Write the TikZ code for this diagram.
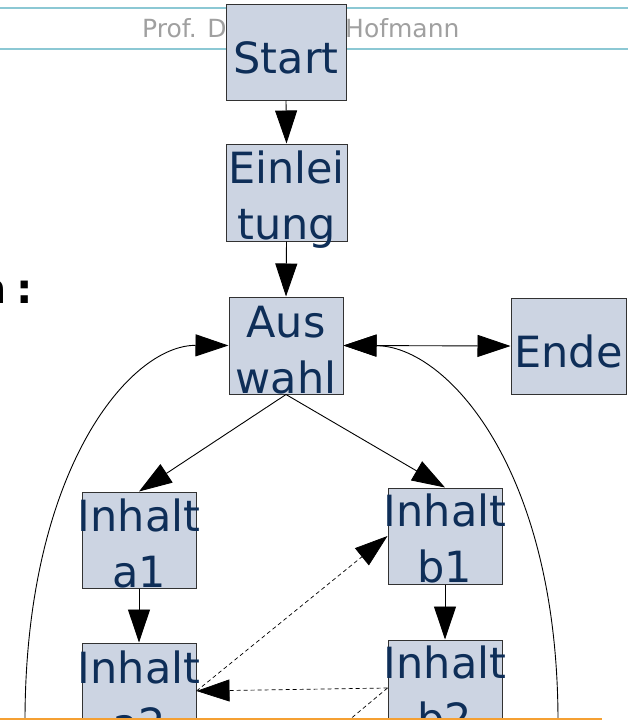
\documentclass[tikz,border=0pt]{standalone}
\usepackage{fontspec}
\setmainfont{DejaVu Sans}
\usetikzlibrary{arrows.meta}
\definecolor{boxfill}{RGB}{204,212,226}
\definecolor{boxdraw}{RGB}{50,50,50}
\definecolor{txtblue}{RGB}{14,46,88}
\definecolor{headline}{RGB}{140,200,212}
\definecolor{headgray}{RGB}{160,160,160}
\definecolor{orangeline}{RGB}{245,160,50}
\begin{document}
\begin{tikzpicture}[x=1pt,y=1pt,
  box/.style={draw=boxdraw, line width=1pt, fill=boxfill, minimum width=114pt, minimum height=96pt, inner sep=0pt},
  lbl/.style={text=txtblue, font=\fontsize{43}{56}\selectfont, align=center, inner sep=0pt},
  head/.style={text=headgray, font=\fontsize{25}{30}\selectfont, anchor=base west, inner sep=0pt},
  arr/.style={-{Triangle[length=33pt,width=22pt]}, line width=0.9pt},
  biarr/.style={{Triangle[length=33pt,width=22pt]}-{Triangle[length=33pt,width=22pt]}, line width=0.9pt},
  dasharr/.style={arr, dash pattern=on 4pt off 3pt, line width=0.7pt},
  dashline/.style={dash pattern=on 4pt off 3pt, line width=0.7pt}]
\useasboundingbox (0,0) rectangle (628,-720);
\clip (0,0) rectangle (628,-720);
% header
\draw[headline, line width=1.2pt] (0,-8) -- (628,-8) (0,-49) -- (628,-49);
\node[head] (prof) at (142,-37) {Prof. D};
\node[head] (hof) at (345,-37) {Hofmann};
\node[font=\bfseries\fontsize{41}{50}\selectfont, anchor=base east, inner sep=0pt] (colon) at (33,-303) {n\kern10pt:};
% boxes
\node[box, minimum width=120pt] (start) at (286,-52) {};
\node[box, minimum width=121pt, minimum height=97pt] (einl) at (286.5,-192.5) {};
\node[box, minimum height=97pt] (ausw) at (286,-345.5) {};
\node[box, minimum width=115pt] (ende) at (568.5,-346) {};
\node[box] (a1) at (139,-540) {};
\node[box] (b1) at (445,-536) {};
\node[box] (a2) at (139,-691) {};
\node[box] (b2) at (445,-688) {};
% labels
\node[lbl] (tstart) at ([yshift=-5.5pt]start.center) {Start};
\node[lbl] (teinl) at ([yshift=-7pt]einl.center) {Einlei\\tung};
\node[lbl] (tausw) at ([yshift=-4.2pt]ausw.center) {Aus\\wahl};
\node[lbl] (tende) at ([yshift=-5.4pt]ende.center) {Ende};
\node[lbl] (ta1) at ([yshift=-3.7pt]a1.center) {Inhalt\\a1};
\node[lbl] (tb1) at ([yshift=-2.7pt]b1.center) {Inhalt\\b1};
\node[lbl] (ta2) at ([yshift=-4pt]a2.center) {Inhalt\\a2};
\node[lbl] (tb2) at ([yshift=-2pt]b2.center) {Inhalt\\b2};
% connectors
\draw[arr] (start.south) -- (einl.south |- einl.north);
\draw[arr] (einl.south) -- (ausw.north);
\draw[biarr] (ausw.east) -- (ende.west);
\draw[arr] (ausw.south) -- (a1.north);
\draw[arr] (ausw.south) -- (b1.north);
\draw[arr] (a1.south) -- (a2.north);
\draw[arr] (b1.south) -- (b2.north);
\coordinate (lbot) at (25,-725);
\coordinate (rbot) at (558,-725);
\draw[arr] (lbot) .. controls (24,-470) and (130,-345) .. (ausw.west);
\draw[arr] (rbot) .. controls (559,-470) and (447,-346) .. (ausw.east);
\draw[dasharr] (a2.east) -- (b1.west);
\draw[dasharr] (b2.west) -- (a2.east);
\coordinate (dend) at (300,-761);
\draw[dashline] (b2.west) -- (dend);
% footer line
\draw[orangeline, line width=2pt] (0,-719) -- (602,-719);
\end{tikzpicture}
\end{document}
